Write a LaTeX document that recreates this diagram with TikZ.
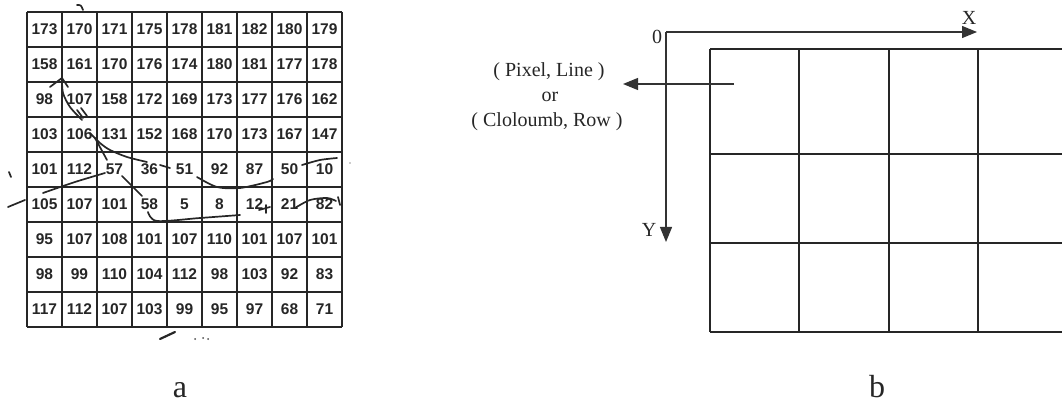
\documentclass[tikz,border=0pt]{standalone}
\usepackage{fontspec}
\setmainfont{Liberation Serif}
\newfontfamily\numfont{Liberation Sans}
\usetikzlibrary{arrows.meta}
\begin{document}
\begin{tikzpicture}[x=1pt,y=-1pt,
  gridline/.style={line width=1.8pt, draw=black!85},
  cellnum/.style={font=\numfont\bfseries\fontsize{15.5}{15.5}\selectfont, inner sep=0pt, text=black!85},
  hand/.style={line width=1.7pt, draw=black!85, line cap=round, line join=round},
  axis/.style={line width=1.2pt, draw=black!80, -{Triangle[length=15pt,width=12pt]}},
  lbl/.style={font=\fontsize{20}{20}\selectfont, inner sep=0pt, text=black!85},
  sublabel/.style={font=\fontsize{32}{32}\selectfont, inner sep=0pt, text=black!85}]
\useasboundingbox (0,0) rectangle (1062,403);
% ---- left grid (a)
\foreach \k in {0,...,9}{
  \draw[gridline] ({27+35*\k},12) -- ({27+35*\k},327);
  \draw[gridline] (27,{12+35*\k}) -- (342,{12+35*\k});
}
\foreach \row [count=\i] in {
  {173,170,171,175,178,181,182,180,179},
  {158,161,170,176,174,180,181,177,178},
  {98,107,158,172,169,173,177,176,162},
  {103,106,131,152,168,170,173,167,147},
  {101,112,57,36,51,92,87,50,10},
  {105,107,101,58,5,8,12,21,82},
  {95,107,108,101,107,110,101,107,101},
  {98,99,110,104,112,98,103,92,83},
  {117,112,107,103,99,95,97,68,71}}{
  \foreach \v [count=\j] in \row {
    \node[cellnum] (n\i-\j) at ({27+35*(\j-0.5)},{12+35*(\i-0.5)}) {\v};
  }
}
% hand-drawn contour strokes
\draw[hand] (8,207) -- (25,200);
\draw[hand] plot[smooth] coordinates {(43,193) (75,182) (105,173)};
\draw[hand] (122,176) -- (142,196);
\draw[hand] plot[smooth] coordinates {(148,212) (157,221) (200,218) (240,215)};
\draw[hand] (259,210) -- (270,207);
\draw[hand] (266,205) -- (266,213);
\draw[hand] plot[smooth] coordinates {(295,208) (310,200) (327,198) (336,201)};
\draw[hand] (338,197) -- (340,205);
\draw[hand] plot[smooth] coordinates {(197,177) (217,187) (240,188) (267,182) (273,179)};
\draw[hand] plot[smooth] coordinates {(302,165) (320,160) (337,158)};
\draw[hand] (160,165) -- (170,168);
\draw[hand] plot[smooth] coordinates {(90,133) (100,143) (110,150) (127,157) (147,162)};
\draw[hand] (95,138) -- (107,160);
\draw[hand] plot[smooth] coordinates {(82,120) (70,107) (63,93) (62,79)};
\draw[hand] (50,87) -- (62,78) -- (68,87);
\draw[hand] (77,110) -- (83,118);
\draw[hand] (81,108) -- (87,116);
\draw[hand] (77,5) .. controls (81,5) .. (83,10);
\draw[hand, line width=2.2pt] (160,339) -- (175,332);
\fill[black!70] (195,339) circle (1pt) (203,338) circle (1pt) (208,339) circle (1pt);
\draw[hand] (9,172) -- (11,177);
\fill[black!40] (350,163) circle (0.8pt);
% ---- right grid (b)
\foreach \xx in {710,799,889,978}{
  \draw[gridline] (\xx,49) -- (\xx,332);
}
\foreach \yy in {49,154,243,332}{
  \draw[gridline] (710,\yy) -- (1062,\yy);
}
\coordinate (O) at (666,32);
\coordinate (xend) at (977,32);
\coordinate (yend) at (666,242);
\coordinate (ptr) at (734,84);
\coordinate (tipL) at (623,84);
\draw[axis] (O) -- (xend);
\draw[axis] (O) -- (yend);
\draw[axis] (ptr) -- (tipL);
\node[lbl, anchor=base] (l1) at (549,77) {( Pixel, Line )};
\node[lbl, anchor=base] (l2) at (550,102) {or};
\node[lbl, anchor=base] (l3) at (547,127) {( Cloloumb, Row )};
\node[lbl] (zero) at (657,37) {0};
\node[lbl] (xl) at (969,18) {X};
\node[lbl] (yl) at (649,230) {Y};
\node[sublabel, anchor=base] (ca) at (180,397) {a};
\node[sublabel, anchor=base] (cb) at (877,397) {b};
\end{tikzpicture}
\end{document}
